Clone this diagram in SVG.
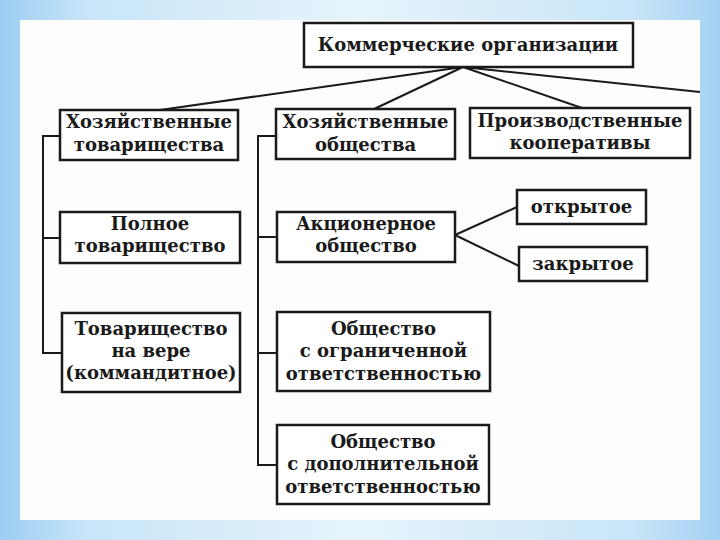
<svg xmlns="http://www.w3.org/2000/svg" width="720" height="540" viewBox="0 0 720 540">
<defs>
<linearGradient id="bgH" x1="0" y1="0" x2="1" y2="0">
<stop offset="0" stop-color="#9ccdf2"/>
<stop offset="0.12" stop-color="#c8e5f8"/>
<stop offset="0.5" stop-color="#e6f4fc"/>
<stop offset="0.88" stop-color="#c8e5f8"/>
<stop offset="1" stop-color="#a3d1f3"/>
</linearGradient>
<style>
.box{fill:#ffffff;stroke:#1a1a1a;stroke-width:2.5}
.ln{fill:none;stroke:#1a1a1a;stroke-width:2}
text{font-family:"DejaVu Serif","Liberation Serif",serif;font-weight:bold;font-size:18px;fill:#1a1a1a;text-anchor:middle}
</style>
</defs>
<rect x="0" y="0" width="720" height="540" fill="url(#bgH)"/>
<rect x="20" y="20" width="680" height="500" fill="#fdfdfd"/>
<g id="connectors">
<path class="ln" d="M463,67 L160,110 M463,67 L372,110 M463,67 L582,108 M463,67 L700,92"/>
<path class="ln" d="M60,136 H43 V353 H62 M43,238 H60"/>
<path class="ln" d="M276,136 H258 V465 H277 M258,237 H277 M258,353 H277"/>
<path class="ln" d="M455,235 L517,207 M455,235 L519,266"/>
</g>
<g id="n-kommerch">
<rect class="box" x="304" y="23" width="329" height="44"/>
<text x="468" y="51">Коммерческие организации</text>
</g>
<g id="n-hoz-tov">
<rect class="box" x="60" y="110" width="178" height="50"/>
<text x="149" y="128">Хозяйственные</text>
<text x="149" y="151">товарищества</text>
</g>
<g id="n-hoz-obsh">
<rect class="box" x="276" y="109" width="179" height="50"/>
<text x="365.5" y="128">Хозяйственные</text>
<text x="365.5" y="151">общества</text>
</g>
<g id="n-proizv">
<rect class="box" x="470" y="108" width="220" height="50"/>
<text x="580" y="127">Производственные</text>
<text x="580" y="149">кооперативы</text>
</g>
<g id="n-polnoe">
<rect class="box" x="60" y="212" width="180" height="51"/>
<text x="150" y="230">Полное</text>
<text x="150" y="252">товарищество</text>
</g>
<g id="n-vera">
<rect class="box" x="62" y="313" width="178" height="79"/>
<text x="151" y="335">Товарищество</text>
<text x="151" y="357">на вере</text>
<text x="151" y="379">(коммандитное)</text>
</g>
<g id="n-ao">
<rect class="box" x="277" y="212" width="178" height="50"/>
<text x="366" y="230">Акционерное</text>
<text x="366" y="252">общество</text>
</g>
<g id="n-open">
<rect class="box" x="517" y="190" width="129" height="34"/>
<text x="581.5" y="213">открытое</text>
</g>
<g id="n-closed">
<rect class="box" x="519" y="247" width="128" height="34"/>
<text x="583" y="270">закрытое</text>
</g>
<g id="n-ooo">
<rect class="box" x="277" y="312" width="213" height="79"/>
<text x="383.5" y="335">Общество</text>
<text x="383.5" y="357">с ограниченной</text>
<text x="383.5" y="380">ответственностью</text>
</g>
<g id="n-odo">
<rect class="box" x="277" y="425" width="212" height="79"/>
<text x="383" y="448">Общество</text>
<text x="383" y="470">с дополнительной</text>
<text x="383" y="493">ответственностью</text>
</g>
</svg>
